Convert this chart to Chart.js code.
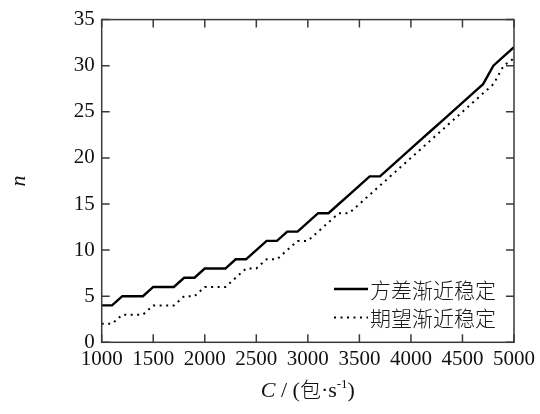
<!DOCTYPE html>
<html>
<head>
<meta charset="utf-8">
<script src="https://cdn.jsdelivr.net/npm/chart.js@4"></script>
<style>
html,body{margin:0;padding:0;background:#fff;}
canvas{display:block;}
</style>
</head>
<body>
<canvas id="c" width="540" height="414"></canvas>
<script>
// ---- data ----
const capacity = [1000,1100,1200,1300,1400,1500,1600,1700,1800,1900,
  2000,2100,2200,2300,2400,2500,2600,2700,2800,2900,
  3000,3100,3200,3300,3400,3500,3600,3700,3800,3900,
  4000,4100,4200,4300,4400,4500,4600,4700,4800,4900,5000];
const varianceN = [4,4,5,5,5,6,6,6,7,7,
  8,8,8,9,9,10,11,11,12,12,
  13,14,14,15,16,17,18,18,19,20,
  21,22,23,24,25,26,27,28,30,31,32];
const expectN = [2,2,3,3,3,4,4,4,5,5,
  6,6,6,7,8,8,9,9,10,11,
  11,12,13,14,14,15,16,17,18,19,
  20,21,22,23,24,25,26,27,28,30,30.8];
const seriesLabels = ['方差渐近稳定','期望渐近稳定'];
const xTicks = {min:1000, max:5000, step:500};
const yTicks = {min:0, max:35, step:5};
const xTitle = ['C',' / (','包','·s','-1',')'];
const yTitle = 'n';

const SERIF = '"Liberation Serif","Times New Roman",serif';
const CJK = '"Noto Sans CJK SC",sans-serif';

const pts = (ys) => capacity.map((x,i)=>({x:x, y:ys[i]}));

const frameTicks = {
  id:'frameTicks',
  afterDatasetsDraw(chart){
    const {ctx, chartArea:a, scales:{x,y}} = chart;
    ctx.save();
    ctx.strokeStyle = '#3a3a3a';
    ctx.lineWidth = 1.5;
    ctx.strokeRect(a.left, a.top, a.right-a.left, a.bottom-a.top);
    const L = 8;
    ctx.beginPath();
    x.ticks.forEach(t=>{
      const px = x.getPixelForValue(t.value);
      ctx.moveTo(px, a.bottom); ctx.lineTo(px, a.bottom-L);
      ctx.moveTo(px, a.top); ctx.lineTo(px, a.top+L);
    });
    y.ticks.forEach(t=>{
      const py = y.getPixelForValue(t.value);
      ctx.moveTo(a.left, py); ctx.lineTo(a.left+L, py);
      ctx.moveTo(a.right, py); ctx.lineTo(a.right-L, py);
    });
    ctx.stroke();
    ctx.restore();
  }
};

const legendTitles = {
  id:'legendTitles',
  afterDraw(chart){
    const {ctx, chartArea:a} = chart;
    ctx.save();
    // legend
    const rows = [289, 317.5];
    chart.data.datasets.forEach((ds,i)=>{
      const yy = rows[i];
      ctx.strokeStyle = ds.borderColor;
      ctx.lineWidth = ds.borderWidth;
      ctx.setLineDash(ds.borderDash || []);
      ctx.beginPath();
      ctx.moveTo(334, yy); ctx.lineTo(368, yy);
      ctx.stroke();
      ctx.setLineDash([]);
      ctx.fillStyle = '#1a1a1a';
      ctx.font = '300 21px ' + CJK;
      ctx.textBaseline = 'middle';
      ctx.textAlign = 'left';
      ctx.fillText(ds.label, 370, yy+1);
    });
    // x title
    const segs = [
      {t:xTitle[0], f:'italic 22px '+SERIF, dy:0},
      {t:xTitle[1], f:'22px '+SERIF, dy:0},
      {t:xTitle[2], f:'300 21px '+CJK, dy:0},
      {t:xTitle[3], f:'22px '+SERIF, dy:0},
      {t:xTitle[4], f:'13px '+SERIF, dy:-9},
      {t:xTitle[5], f:'22px '+SERIF, dy:0}
    ];
    let total = 0;
    segs.forEach(s=>{ctx.font=s.f; s.w=ctx.measureText(s.t).width; total+=s.w;});
    let xx = (a.left+a.right)/2 - total/2;
    ctx.textBaseline = 'alphabetic';
    ctx.textAlign = 'left';
    ctx.fillStyle = '#111';
    segs.forEach(s=>{ctx.font=s.f; ctx.fillText(s.t, xx, 397+s.dy); xx+=s.w;});
    // y title
    ctx.translate(19, (a.top+a.bottom)/2);
    ctx.rotate(-Math.PI/2);
    ctx.font = 'italic 22px '+SERIF;
    ctx.textAlign = 'center';
    ctx.textBaseline = 'middle';
    ctx.fillText(yTitle, 0, 0);
    ctx.restore();
  }
};

new Chart(document.getElementById('c'), {
  type:'line',
  data:{
    datasets:[
      {label:seriesLabels[0], data:pts(varianceN), borderColor:'#000', borderWidth:2.4,
       pointRadius:0, tension:0, fill:false},
      {label:seriesLabels[1], data:pts(expectN), borderColor:'#000', borderWidth:2,
       borderDash:[2,4.5], borderCapStyle:'butt', pointRadius:0, tension:0, fill:false}
    ]
  },
  options:{
    responsive:false,
    animation:false,
    devicePixelRatio:1,
    layout:{padding:{left:0, right:23.3, top:15, bottom:0}},
    plugins:{legend:{display:false}, tooltip:{enabled:false}},
    scales:{
      x:{type:'linear', min:xTicks.min, max:xTicks.max,
        ticks:{stepSize:xTicks.step, color:'#111', font:{family:SERIF, size:21}, padding:5,
          maxRotation:0, autoSkip:false, callback:(v)=>String(v)},
        grid:{display:false, drawTicks:false}, border:{display:false},
        afterFit(s){ s.height = 414-342.3; }
      },
      y:{type:'linear', min:yTicks.min, max:yTicks.max,
        ticks:{stepSize:yTicks.step, color:'#111', font:{family:SERIF, size:21}, padding:7,
          callback:(v)=>String(v)},
        grid:{display:false, drawTicks:false}, border:{display:false},
        afterFit(s){ s.width = 101.7; }
      }
    }
  },
  plugins:[frameTicks, legendTitles]
});
</script>
</body>
</html>
